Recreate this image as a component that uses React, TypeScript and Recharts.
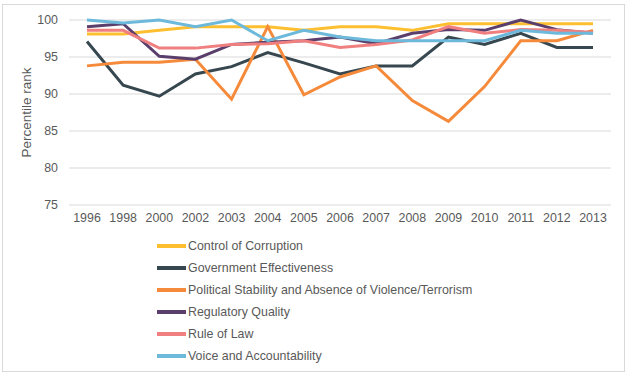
import React from 'react';
import { LineChart, Line, XAxis, YAxis, CartesianGrid, Legend } from 'recharts';

const years = ['1996', '1998', '2000', '2002', '2003', '2004', '2005', '2006', '2007', '2008', '2009', '2010', '2011', '2012', '2013'];
const controlOfCorruption = [98.1, 98.1, 98.6, 99.1, 99.1, 99.1, 98.6, 99.1, 99.1, 98.6, 99.5, 99.5, 99.5, 99.5, 99.5];
const governmentEffectiveness = [97.1, 91.2, 89.7, 92.7, 93.7, 95.6, 94.2, 92.7, 93.8, 93.8, 97.7, 96.7, 98.2, 96.3, 96.3];
const politicalStability = [93.8, 94.3, 94.3, 94.7, 89.3, 99.1, 89.9, 92.3, 93.8, 89.1, 86.3, 91.0, 97.2, 97.2, 98.6];
const regulatoryQuality = [99.1, 99.5, 95.1, 94.7, 96.7, 97.0, 97.2, 97.7, 96.8, 98.2, 98.7, 98.6, 100, 98.7, 98.2];
const ruleOfLaw = [98.6, 98.6, 96.2, 96.2, 96.7, 96.8, 97.2, 96.3, 96.7, 97.3, 99.1, 98.2, 98.7, 98.6, 98.3];
const voiceAccountability = [100, 99.6, 100, 99.1, 100, 97.2, 98.6, 97.7, 97.2, 97.2, 97.2, 97.2, 98.6, 98.2, 98.2];
const yTicks = [75, 80, 85, 90, 95, 100];

const series = [
  { key: 'cc', name: 'Control of Corruption', color: '#FDBF2F', values: controlOfCorruption },
  { key: 'ge', name: 'Government Effectiveness', color: '#37474F', values: governmentEffectiveness },
  { key: 'ps', name: 'Political Stability and Absence of Violence/Terrorism', color: '#F58A3A', values: politicalStability },
  { key: 'rq', name: 'Regulatory Quality', color: '#5A3F6C', values: regulatoryQuality },
  { key: 'rl', name: 'Rule of Law', color: '#F07F7F', values: ruleOfLaw },
  { key: 'va', name: 'Voice and Accountability', color: '#6CB9DB', values: voiceAccountability },
];

const data = years.map((y, i) => {
  const row: Record<string, number | string> = { year: y };
  series.forEach((s) => {
    row[s.key] = s.values[i];
  });
  return row;
});

const FONT = '"Liberation Sans", Arial, sans-serif';
const TEXT = '#595959';

const renderLegend = () => (
  <div style={{ fontFamily: FONT, fontSize: 12.4, color: TEXT }}>
    {series.map((s) => (
      <div key={s.key} style={{ display: 'flex', alignItems: 'center', height: 22 }}>
        <div style={{ width: 29, height: 4, background: s.color, marginRight: 2 }} />
        <span>{s.name}</span>
      </div>
    ))}
  </div>
);

export default function App() {
  return (
    <div style={{ position: 'absolute', left: 0, top: 0, width: 628, height: 381, background: '#fff' }}>
      <div
        style={{
          position: 'absolute',
          left: 2,
          top: 4,
          width: 623,
          height: 368,
          border: '1px solid #d9d9d9',
          boxSizing: 'border-box',
        }}
      />
      <LineChart
        width={628}
        height={381}
        data={data}
        margin={{ top: 20, right: 17, bottom: 146, left: 0 }}
      >
        <CartesianGrid vertical={false} stroke="#d9d9d9" strokeWidth={1} />
        <XAxis
          dataKey="year"
          axisLine={false}
          tickLine={false}
          height={30}
          interval={0}
          padding={{ left: 18, right: 18 }}
          tick={{ fontFamily: FONT, fontSize: 12.4, fill: TEXT }}
        />
        <YAxis
          domain={[75, 100]}
          ticks={yTicks}
          width={69}
          axisLine={false}
          tickLine={false}
          tickMargin={5}
          tick={{ fontFamily: FONT, fontSize: 12.4, fill: TEXT }}
          label={{
            value: 'Percentile rank',
            angle: -90,
            position: 'center',
            dx: -8,
            style: { fontFamily: FONT, fontSize: 13.5, fill: TEXT, textAnchor: 'middle' },
          }}
        />
        <Legend
          layout="vertical"
          verticalAlign="middle"
          align="center"
          content={renderLegend}
          wrapperStyle={{ position: 'absolute', left: 157, top: 235, width: 420 }}
        />
        {series.map((s) => (
          <Line
            key={s.key}
            type="linear"
            dataKey={s.key}
            name={s.name}
            stroke={s.color}
            strokeWidth={3}
            dot={false}
            activeDot={false}
            isAnimationActive={false}
          />
        ))}
      </LineChart>
    </div>
  );
}
